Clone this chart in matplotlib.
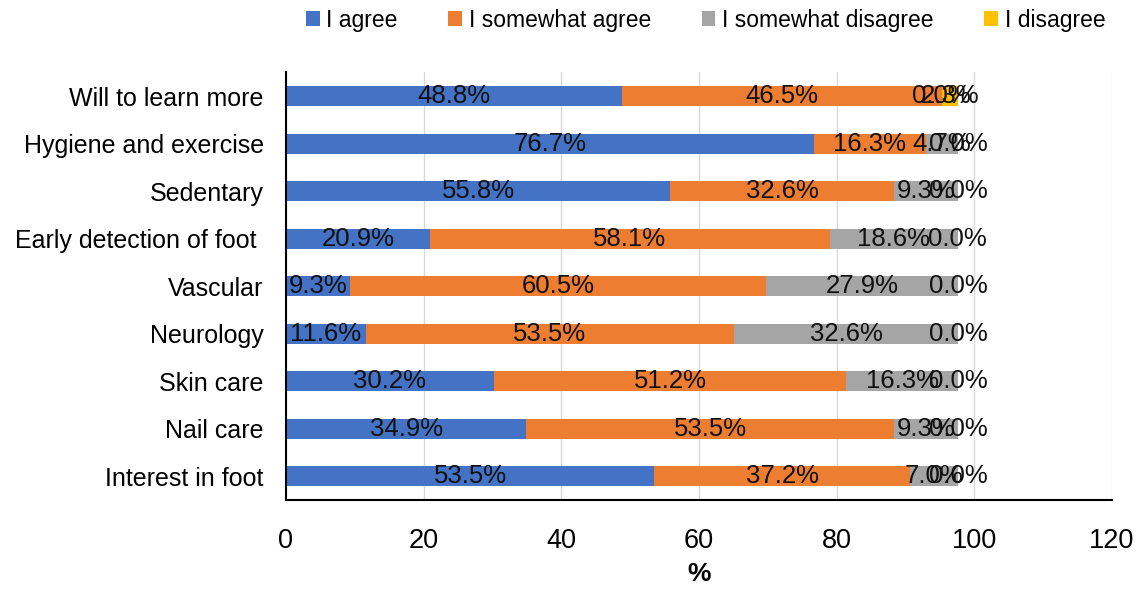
"""
Foot-care survey: stacked horizontal bars of agreement levels per item.
"""

import matplotlib
matplotlib.use("Agg")

import matplotlib.pyplot as plt
import numpy as np

# categories listed bottom-to-top as they appear on the y axis
categories = [
    "Interest in foot",
    "Nail care",
    "Skin care",
    "Neurology",
    "Vascular",
    "Early detection of foot ",
    "Sedentary",
    "Hygiene and exercise",
    "Will to learn more",
]

agree = [53.5, 34.9, 30.2, 11.6, 9.3, 20.9, 55.8, 76.7, 48.8]
somewhat_agree = [37.2, 53.5, 51.2, 53.5, 60.5, 58.1, 32.6, 16.3, 46.5]
somewhat_disagree = [7.0, 9.3, 16.3, 32.6, 27.9, 18.6, 9.3, 4.7, 0.0]
disagree = [0.0, 0.0, 0.0, 0.0, 0.0, 0.0, 0.0, 0.0, 2.3]

series_names = ["I agree", "I somewhat agree", "I somewhat disagree", "I disagree"]
colors = ["#4472C4", "#ED7D31", "#A5A5A5", "#FFC000"]
x_ticks = [0, 20, 40, 60, 80, 100, 120]

plt.rcParams["font.family"] = ["Liberation Sans", "DejaVu Sans"]

fig = plt.figure(figsize=(11.38, 5.92), dpi=100)
ax = fig.add_axes([0.2513, 0.155, 0.7257, 0.723])

y = np.arange(len(categories))
left = np.zeros(len(categories))
for name, vals, col in zip(series_names, [agree, somewhat_agree, somewhat_disagree, disagree], colors):
    vals = np.array(vals)
    bars = ax.barh(y, vals, left=left, height=0.42, color=col, label=name, zorder=2)
    for b, v in zip(bars, vals):
        ax.text(b.get_x() + b.get_width() / 2, b.get_y() + b.get_height() / 2,
                f"{v:.1f}%", ha="center", va="center", fontsize=18.5,
                color="#111111", zorder=3)
    left += vals

ax.set_xlim(0, 120)
ax.set_ylim(-0.5, len(categories) - 0.5)
ax.set_xticks(x_ticks)
ax.set_yticks(y)
ax.set_yticklabels(categories, fontsize=18)
ax.tick_params(axis="x", labelsize=19.5, length=0, pad=20)
ax.tick_params(axis="y", length=0, pad=16)
ax.grid(axis="x", color="#d9d9d9", linewidth=1, zorder=0)

for s in ["top", "right"]:
    ax.spines[s].set_visible(False)
ax.spines["left"].set_linewidth(1.5)
ax.spines["bottom"].set_linewidth(1.5)

ax.set_xlabel("%", fontsize=19, fontweight="bold", labelpad=6)

fig.legend(loc="upper center", bbox_to_anchor=(0.62, 1.02), ncol=4, frameon=False,
           fontsize=16.5, handlelength=0.6, handleheight=0.6, handletextpad=0.3,
           columnspacing=2.2)

plt.savefig("out.png", dpi=100)
plt.close()
